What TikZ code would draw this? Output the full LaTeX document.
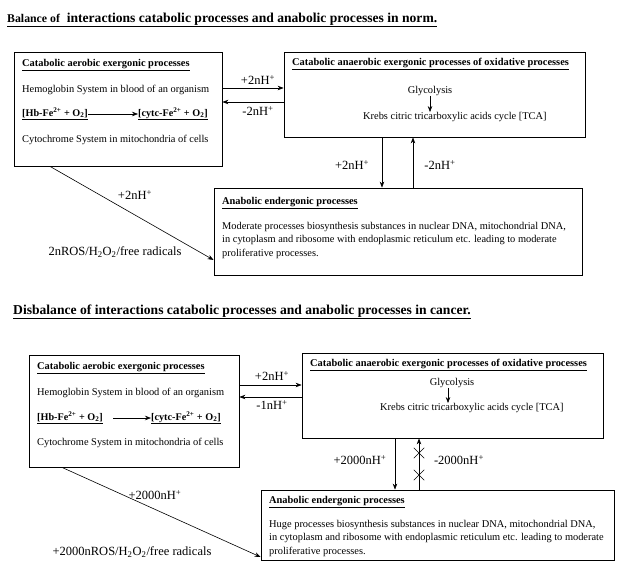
\documentclass[tikz,border=0pt]{standalone}
\usepackage{fontspec}
\setmainfont{Liberation Serif}
\usepackage{tikz}
\usetikzlibrary{arrows.meta, shapes.misc}
\definecolor{primary}{HTML}{000000}

\begin{document}
\begin{tikzpicture}[
    x=1pt, y=-1pt,
    font=\fontsize{10.4}{13.5}\selectfont,
    box/.style={rectangle, draw=primary, line width=0.8pt, inner sep=0pt},
    txt/.style={anchor=west, inner sep=0pt},
    head/.style={anchor=west, inner sep=0pt, font=\fontsize{10.4}{12}\selectfont\bfseries},
    react/.style={anchor=west, inner sep=0pt, font=\fontsize{10.2}{12}\selectfont\bfseries},
    lbl/.style={inner sep=1pt, font=\fontsize{12.5}{14}\selectfont},
    title/.style={anchor=west, inner sep=0pt, font=\fontsize{13.6}{15}\selectfont\bfseries},
    arrow/.style={-{Stealth[length=6pt, width=4.5pt]}, line width=0.6pt, color=primary},
    cross/.style={cross out, draw=primary, line width=0.5pt, minimum size=10pt, inner sep=0pt}
]
    \useasboundingbox (0,0) rectangle (628,580);

    % balance in norm
    \node[title] (norm) at (7,20) {\underline{{\fontsize{11.8}{13}\selectfont Balance of}\ \ interactions catabolic processes and anabolic processes in norm.}};

    \node[box, minimum width=208pt, minimum height=114pt] (aer) at (118,109) {};
    \node[box, minimum width=301pt, minimum height=85pt] (anr) at (434.5,94.5) {};
    \node[box, minimum width=368pt, minimum height=87pt] (ana) at (398,231.5) {};

    \node[head] (aerT) at (22,65) {\underline{Catabolic aerobic exergonic processes}};
    \node[txt] (hemo) at (22,90) {Hemoglobin System in blood of an organism};
    \node[react] (hb) at (22,114) {\underline{[Hb-Fe\textsuperscript{2+} + O\textsubscript{2}]}};
    \node[react] (cytc) at (138,114) {\underline{[cytc-Fe\textsuperscript{2+} + O\textsubscript{2}]}};
    \node[txt] (cyto) at (22,140) {Cytochrome System in mitochondria of cells};
    \draw[arrow] (hb.east) -- (cytc.west);

    \node[head] (anrT) at (292,64) {\underline{Catabolic anaerobic exergonic processes of oxidative processes}};
    \node[inner sep=0pt] (glyc) at (430,91) {Glycolysis};
    \node[txt] (krebs) at (363,117) {Krebs citric tricarboxylic acids cycle [TCA]};
    \draw[arrow] (glyc.south) -- (glyc.south |- krebs.north);

    \node[head] (anaT) at (222,203) {\underline{Anabolic endergonic processes}};
    \node[txt, anchor=north west, align=left] (anaP) at (222,222) {Moderate processes biosynthesis substances in nuclear DNA, mitochondrial DNA,\\in cytoplasm and ribosome with endoplasmic reticulum etc. leading to moderate\\proliferative processes.};

    \draw[arrow] ([yshift=21pt]aer.east) -- ([yshift=6.5pt]anr.west);
    \draw[arrow] ([yshift=-7.5pt]anr.west) -- ([yshift=7pt]aer.east);
    \node[lbl] (gainA) at (258,80) {+2nH\textsuperscript{+}};
    \node[lbl] (lossA) at (258,111) {-2nH\textsuperscript{+}};

    \draw[arrow] ([xshift=-52.5pt]anr.south) -- ([xshift=-16pt]ana.north);
    \draw[arrow] ([xshift=15pt]ana.north) -- ([xshift=-21.5pt]anr.south);
    \node[lbl] (gainB) at (352,165) {+2nH\textsuperscript{+}};
    \node[lbl] (lossB) at (440,165) {-2nH\textsuperscript{+}};

    \draw[arrow] ([xshift=-68pt]aer.south) -- ([yshift=-28.5pt]ana.west);
    \node[lbl] (gainC) at (135,195) {+2nH\textsuperscript{+}};
    \node[lbl] (ros) at (115,252) {2nROS/H\textsubscript{2}O\textsubscript{2}/free radicals};

    % disbalance in cancer
    \node[title] (cancer) at (13,312) {\underline{Disbalance of interactions catabolic processes and anabolic processes in cancer.}};

    \node[box, minimum width=210pt, minimum height=112pt] (aer2) at (134,411) {};
    \node[box, minimum width=301pt, minimum height=85pt] (anr2) at (452.5,395.5) {};
    \node[box, minimum width=353pt, minimum height=70pt] (ana2) at (437.5,525) {};

    \node[head] (aerT2) at (37,368) {\underline{Catabolic aerobic exergonic processes}};
    \node[txt] (hemo2) at (37,393) {Hemoglobin System in blood of an organism};
    \node[react] (hb2) at (37,418) {\underline{[Hb-Fe\textsuperscript{2+} + O\textsubscript{2}]}};
    \node[react] (cytc2) at (151,418) {\underline{[cytc-Fe\textsuperscript{2+} + O\textsubscript{2}]}};
    \node[txt] (cyto2) at (37,443) {Cytochrome System in mitochondria of cells};
    \draw[arrow] ([xshift=10pt]hb2.east) -- (cytc2.west);

    \node[head] (anrT2) at (310,365) {\underline{Catabolic anaerobic exergonic processes of oxidative processes}};
    \node[inner sep=0pt] (glyc2) at (452,383) {Glycolysis};
    \node[txt] (krebs2) at (380,408) {Krebs citric tricarboxylic acids cycle [TCA]};
    \draw[arrow] ([xshift=-4pt]glyc2.south) -- ([xshift=-4pt]glyc2.south |- krebs2.north);

    \node[head] (anaT2) at (269,502) {\underline{Anabolic endergonic processes}};
    \node[txt, anchor=north west, align=left] (anaP2) at (269,520) {Huge processes biosynthesis substances in nuclear DNA, mitochondrial DNA,\\in cytoplasm and ribosome with endoplasmic reticulum etc. leading to moderate\\proliferative processes.};

    \draw[arrow] ([yshift=26pt]aer2.east) -- ([yshift=10.5pt]anr2.west);
    \draw[arrow] ([yshift=-1.5pt]anr2.west) -- ([yshift=14pt]aer2.east);
    \node[lbl] (gainA2) at (272,376) {+2nH\textsuperscript{+}};
    \node[lbl] (lossA2) at (272,405) {-1nH\textsuperscript{+}};

    \draw[arrow] ([xshift=-57.5pt]anr2.south) -- ([xshift=-42.5pt]ana2.north);
    \draw[arrow] ([xshift=-18.5pt]ana2.north) -- ([xshift=-33.5pt]anr2.south);
    \node[cross] (blockA) at (419,453) {};
    \node[cross] (blockB) at (419,475) {};
    \node[lbl] (gainB2) at (360,460) {+2000nH\textsuperscript{+}};
    \node[lbl] (lossB2) at (459,460) {-2000nH\textsuperscript{+}};

    \draw[arrow] ([xshift=-72pt]aer2.south) -- ([yshift=-32pt]ana2.west);
    \node[lbl] (gainC2) at (155,495) {+2000nH\textsuperscript{+}};
    \node[lbl] (ros2) at (132,552) {+2000nROS/H\textsubscript{2}O\textsubscript{2}/free radicals};
\end{tikzpicture}
\end{document}
